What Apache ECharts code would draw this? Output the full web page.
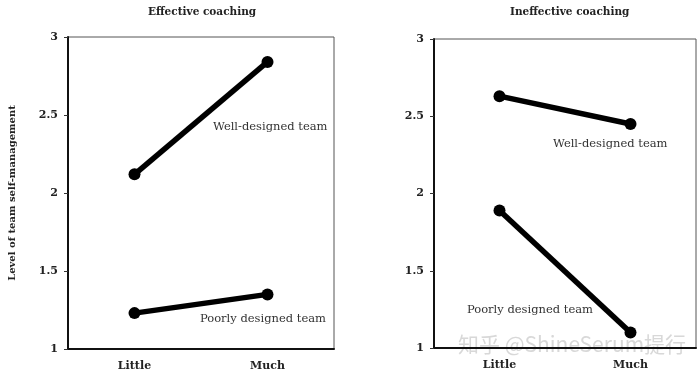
<!DOCTYPE html>
<html>
<head>
<meta charset="utf-8">
<script src="https://cdn.jsdelivr.net/npm/echarts@6/dist/echarts.min.js"></script>
<style>
  html, body { margin: 0; padding: 0; background: #fff; }
  #chart { width: 697px; height: 375px; }
</style>
</head>
<body>
<div id="chart"></div>
<script>
const categories = ['Little', 'Much']
const panelTitles = ['Effective coaching', 'Ineffective coaching']
const yTicks = [1, 1.5, 2, 2.5, 3]

// effective coaching
const effWell = [2.12, 2.84]
const effPoor = [1.23, 1.35]
// ineffective coaching
const ineffWell = [2.63, 2.45]
const ineffPoor = [1.89, 1.1]

const FONT = 'DejaVu Serif'
const grids = [
  { left: 68, top: 37, width: 266, height: 312 },
  { left: 434, top: 39, width: 262, height: 309 }
]

const chart = echarts.init(document.getElementById('chart'))

const lineSeries = (data, idx) => ({
  type: 'line',
  xAxisIndex: idx,
  yAxisIndex: idx,
  data,
  symbol: 'circle',
  symbolSize: 12,
  lineStyle: { color: '#000', width: 5.5 },
  itemStyle: { color: '#000' },
  silent: true,
  animation: false
})

chart.setOption({
  backgroundColor: '#fff',
  grid: grids.map((g) => ({ ...g, show: true, borderColor: '#555', borderWidth: 1 })),
  xAxis: grids.map((g, i) => ({
    type: 'category',
    gridIndex: i,
    data: categories,
    boundaryGap: true,
    axisLine: { lineStyle: { color: '#111', width: 2 } },
    axisTick: { show: false },
    axisLabel: { color: '#222', fontFamily: FONT, fontWeight: 'bold', fontSize: 11, margin: 12 }
  })),
  yAxis: grids.map((g, i) => ({
    type: 'value',
    gridIndex: i,
    min: 1,
    max: 3,
    interval: 0.5,
    axisLine: { show: true, lineStyle: { color: '#111', width: 2 } },
    axisTick: { show: true, length: 4, lineStyle: { color: '#333' } },
    splitLine: { show: false },
    axisLabel: {
      color: '#222', fontFamily: FONT, fontWeight: 'bold', fontSize: 11, margin: 10,
      formatter: (v) => (yTicks.includes(v) ? String(v) : '')
    },
    name: i === 0 ? 'Level of team self-management' : '',
    nameLocation: 'middle',
    nameGap: 51,
    nameTextStyle: { color: '#222', fontFamily: FONT, fontWeight: 'bold', fontSize: 10 }
  })),
  series: [
    lineSeries(effWell, 0),
    lineSeries(effPoor, 0),
    lineSeries(ineffWell, 1),
    lineSeries(ineffPoor, 1)
  ],
  graphic: [
    { type: 'text', left: 148, top: 7, style: { text: panelTitles[0], font: `bold 10.5px "${FONT}"`, fill: '#222' } },
    { type: 'text', left: 510, top: 7, style: { text: panelTitles[1], font: `bold 10.5px "${FONT}"`, fill: '#222' } },
    { type: 'text', left: 213, top: 121, style: { text: 'Well-designed team', font: `11.5px "${FONT}"`, fill: '#333' } },
    { type: 'text', left: 200, top: 313, style: { text: 'Poorly designed team', font: `11.5px "${FONT}"`, fill: '#333' } },
    { type: 'text', left: 553, top: 138, style: { text: 'Well-designed team', font: `11.5px "${FONT}"`, fill: '#333' } },
    { type: 'text', left: 467, top: 304, style: { text: 'Poorly designed team', font: `11.5px "${FONT}"`, fill: '#333' } },
    { type: 'text', left: 458, top: 334, style: { text: '知乎 @ShineSerum提行', font: '21px "Noto Sans CJK SC"', fill: 'rgba(200,200,200,0.7)' } }
  ]
})
</script>
</body>
</html>
